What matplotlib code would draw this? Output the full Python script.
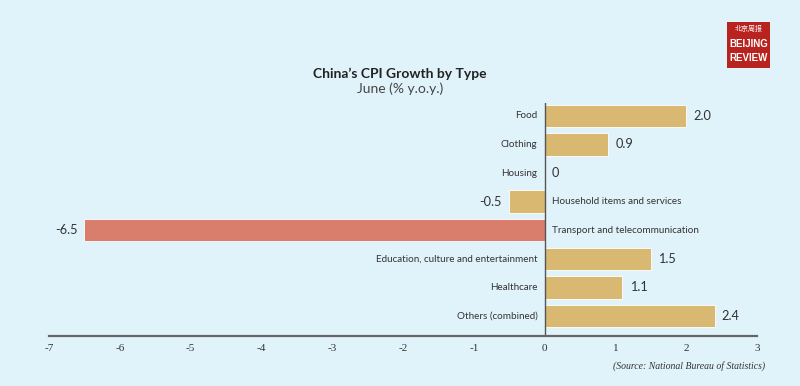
import matplotlib
matplotlib.use("Agg")
import matplotlib.pyplot as plt
from matplotlib.patches import Rectangle

categories = ["Food", "Clothing", "Housing", "Household items and services",
              "Transport and telecommunication", "Education, culture and entertainment",
              "Healthcare", "Others (combined)"]
values = [2.0, 0.9, 0.0, -0.5, -6.5, 1.5, 1.1, 2.4]
value_labels = ["2.0", "0.9", "0", "-0.5", "-6.5", "1.5", "1.1", "2.4"]
bar_colors = ["#d9b872", "#d9b872", "#d9b872", "#d9b872", "#d97e6c", "#d9b872", "#d9b872", "#d9b872"]
ticks = [-7, -6, -5, -4, -3, -2, -1, 0, 1, 2, 3]

bg = "#e1f3fa"
fig = plt.figure(figsize=(8, 3.86), dpi=100, facecolor=bg)
ax = fig.add_axes([49/800, 50/386, 708/800, 233/386])
ax.set_facecolor(bg)

ypos = list(range(len(categories)))
ax.barh(ypos, values, height=0.78, color=bar_colors, edgecolor="white", linewidth=0.6)
ax.set_xlim(-7, 3)
ax.set_ylim(7.7, -0.45)

txt = dict(va="center", family="Lato", color="#333333")
for y, v, cat, lab in zip(ypos, values, categories, value_labels):
    if v >= 0:
        ax.text(-0.1, y, cat, ha="right", fontsize=7.1, **txt)
        ax.text(max(v, 0) + 0.1, y, lab, ha="left", fontsize=9.2, **txt)
    else:
        ax.text(0.1, y, cat, ha="left", fontsize=7.1, **txt)
        ax.text(v - 0.1, y, lab, ha="right", fontsize=9.2, **txt)

ax.axvline(0, color="#555555", linewidth=1.0)
for s in ["top", "right", "left"]:
    ax.spines[s].set_visible(False)
ax.spines["bottom"].set_color("#666666")
ax.spines["bottom"].set_linewidth(1.6)
ax.set_yticks([])
ax.set_xticks(ticks)
ax.set_xticklabels([str(t) for t in ticks], fontsize=8, family="Liberation Serif", color="#333333")
ax.tick_params(axis="x", length=0, pad=6)

fig.text(400/800, 1 - 74/386, "China\u2019s CPI Growth by Type", ha="center", va="center",
         fontsize=10, fontweight="bold", family="Lato", color="#222222")
fig.text(400/800, 1 - 89/386, "June (% y.o.y.)", ha="center", va="center",
         fontsize=10, family="Lato", color="#444444")

fig.text(765/800, 1 - 366/386, "(Source: National Bureau of Statistics)", ha="right", va="center",
         fontsize=7, style="italic", family="Liberation Serif", color="#333333")

# logo
fig.patches.append(Rectangle((727/800, 1 - 68/386), 43/800, 46/386, transform=fig.transFigure,
                             facecolor="#b8231f", edgecolor="none"))
fig.text(748.5/800, 1 - 29/386, "北京周报", ha="center", va="center", fontsize=5,
         family="Noto Sans CJK SC", color="white")
fig.text(748.5/800, 1 - 44/386, "BEIJING", ha="center", va="center", fontsize=7,
         fontweight="bold", family="Liberation Sans", color="white")
fig.text(748.5/800, 1 - 58/386, "REVIEW", ha="center", va="center", fontsize=7,
         fontweight="bold", family="Liberation Sans", color="white")

fig.savefig("out.png", dpi=100, facecolor=bg)
